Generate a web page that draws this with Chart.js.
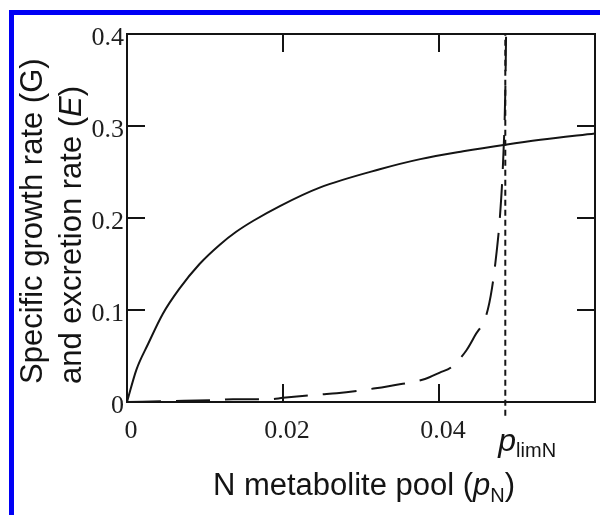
<!DOCTYPE html>
<html>
<head>
<script src="https://cdn.jsdelivr.net/npm/chart.js"></script>
<title>Specific growth rate and excretion rate vs N metabolite pool</title>
<style>
  body { margin: 0; background: #fff; }
  #wrap { position: relative; width: 600px; height: 515px; overflow: hidden; }
  #chart { position: absolute; left: 0; top: 0; }
  #frame {
    position: absolute; left: 9px; top: 10px; width: 640px; height: 560px;
    border-top: 5px solid #0000f5; border-left: 5px solid #0000f5;
    pointer-events: none;
  }
</style>
</head>
<body>
<div id="wrap">
  <canvas id="chart" width="600" height="515"></canvas>
  <div id="frame"></div>
</div>
<script>
// growth rate G against the N metabolite pool
const poolG = [0, 0.0012, 0.0027, 0.0046, 0.0067, 0.0093, 0.0119, 0.014, 0.0162, 0.0196, 0.0247, 0.0324, 0.0376, 0.0431, 0.0485, 0.053, 0.06];
const growthG = [0, 0.035, 0.063, 0.096, 0.123, 0.150, 0.171, 0.185, 0.197, 0.213, 0.233, 0.253, 0.264, 0.2725, 0.2797, 0.285, 0.2918];

// excretion rate E, blows up at the limiting pool size
const poolE = [0, 0.006, 0.011, 0.0136, 0.0183, 0.020, 0.0247, 0.0269, 0.0316, 0.0337, 0.0382, 0.0401, 0.0416, 0.0435, 0.0446, 0.0461, 0.0468, 0.0474, 0.0478, 0.0482, 0.0485, 0.0486];
const excretionE = [0, 0.001, 0.002, 0.003, 0.003, 0.0045, 0.0081, 0.0095, 0.0146, 0.0175, 0.025, 0.032, 0.038, 0.056, 0.072, 0.0955, 0.124, 0.164, 0.20, 0.258, 0.3375, 0.40];

const pLimN = 0.0485;
const limLineBottom = -0.015;   // marker line runs a little past the axis
const xTickLabels = ['0', '0.02', '0.04', ''];
const yTickLabels = ['0', '0.1', '0.2', '0.3', '0.4'];

const INK = '#141414';
const SANS = '"Liberation Sans", Arial, sans-serif';
const SERIF = '"Liberation Serif", "Times New Roman", serif';
const TICK_LEN = 18;

function toPoints(xs, ys) {
  return xs.map((v, i) => ({ x: v, y: ys[i] }));
}

// draws a run of text pieces (font, text, baseline shift) left to right
function drawRun(ctx, parts, x, y) {
  parts.forEach(p => {
    ctx.font = p.font;
    ctx.fillText(p.text, x, y + (p.dy || 0));
    x += ctx.measureText(p.text).width;
  });
}
function runWidth(ctx, parts) {
  return parts.reduce((w, p) => { ctx.font = p.font; return w + ctx.measureText(p.text).width; }, 0);
}

const frameAndLabels = {
  id: 'frameAndLabels',
  afterDatasetsDraw(chart) {
    const { ctx, chartArea: a, scales: { x, y } } = chart;
    ctx.save();
    ctx.strokeStyle = INK;
    ctx.lineWidth = 2;
    ctx.strokeRect(a.left, a.top, a.right - a.left, a.bottom - a.top);

    // ticks point inward on all four sides
    ctx.beginPath();
    x.ticks.forEach(t => {
      const px = x.getPixelForValue(t.value);
      ctx.moveTo(px, a.bottom); ctx.lineTo(px, a.bottom - TICK_LEN);
      ctx.moveTo(px, a.top); ctx.lineTo(px, a.top + TICK_LEN);
    });
    y.ticks.forEach(t => {
      const py = y.getPixelForValue(t.value);
      ctx.moveTo(a.left, py); ctx.lineTo(a.left + TICK_LEN, py);
      ctx.moveTo(a.right, py); ctx.lineTo(a.right - TICK_LEN, py);
    });
    ctx.stroke();

    ctx.fillStyle = INK;
    ctx.textBaseline = 'alphabetic';
    ctx.textAlign = 'left';

    // p_limN under the marker line
    const lx = x.getPixelForValue(pLimN);
    drawRun(ctx, [
      { font: 'italic 32px ' + SANS, text: 'p' },
      { font: '20px ' + SANS, text: 'limN', dy: 6 }
    ], lx - 7, 451);

    // x axis title
    const xTitle = [
      { font: '31px ' + SANS, text: 'N metabolite pool (' },
      { font: 'italic 31px ' + SANS, text: 'p' },
      { font: '20px ' + SANS, text: 'N', dy: 7 },
      { font: '31px ' + SANS, text: ')' }
    ];
    const cx = (a.left + a.right) / 2 + 3;
    drawRun(ctx, xTitle, cx - runWidth(ctx, xTitle) / 2, 495);

    // y axis title, two rotated lines
    ctx.save();
    ctx.translate(42, 384);
    ctx.rotate(-Math.PI / 2);
    drawRun(ctx, [{ font: '31px ' + SANS, text: 'Specific growth rate (G)' }], 0, 0);
    drawRun(ctx, [
      { font: '31px ' + SANS, text: 'and excretion rate (' },
      { font: 'italic 31px ' + SANS, text: 'E' },
      { font: '31px ' + SANS, text: ')' }
    ], 0, 39);
    ctx.restore();

    ctx.restore();
  }
};

new Chart(document.getElementById('chart'), {
  type: 'scatter',
  data: {
    datasets: [
      {
        label: 'G',
        data: toPoints(poolG, growthG),
        showLine: true,
        borderColor: INK,
        borderWidth: 2,
        pointRadius: 0,
        cubicInterpolationMode: 'monotone'
      },
      {
        label: 'E',
        data: toPoints(poolE, excretionE),
        showLine: true,
        borderColor: INK,
        borderWidth: 2,
        borderDash: [34, 15],
        pointRadius: 0,
        cubicInterpolationMode: 'monotone'
      },
      {
        label: 'plimN',
        data: [{ x: pLimN, y: limLineBottom }, { x: pLimN, y: 0.4 }],
        showLine: true,
        borderColor: INK,
        borderWidth: 2,
        borderDash: [6, 4],
        pointRadius: 0,
        clip: false
      }
    ]
  },
  options: {
    responsive: false,
    animation: false,
    layout: { padding: { top: 34, right: 5, left: 0, bottom: 0 } },
    plugins: { legend: { display: false }, tooltip: { enabled: false } },
    scales: {
      x: {
        type: 'linear',
        min: 0,
        max: 0.06,
        grid: { display: false, drawTicks: false },
        border: { display: false },
        ticks: {
          stepSize: 0.02,
          autoSkip: false,
          maxRotation: 0,
          padding: 14,
          labelOffset: 4,
          color: '#1e1e1e',
          font: { family: SERIF, size: 26 },
          callback: (v, i) => xTickLabels[i] ?? ''
        },
        afterFit: s => {
          s.height = 113;
          s.paddingLeft = 0;
          s.paddingRight = 0;
        }
      },
      y: {
        min: 0,
        max: 0.4,
        grid: { display: false, drawTicks: false },
        border: { display: false },
        ticks: {
          stepSize: 0.1,
          padding: 3,
          labelOffset: 4,
          color: '#1e1e1e',
          font: { family: SERIF, size: 26 },
          callback: (v, i) => yTickLabels[i] ?? ''
        },
        afterFit: s => {
          s.width = 127;
          s.paddingTop = 0;
          s.paddingBottom = 0;
        }
      }
    }
  },
  plugins: [frameAndLabels]
});
</script>
</body>
</html>
